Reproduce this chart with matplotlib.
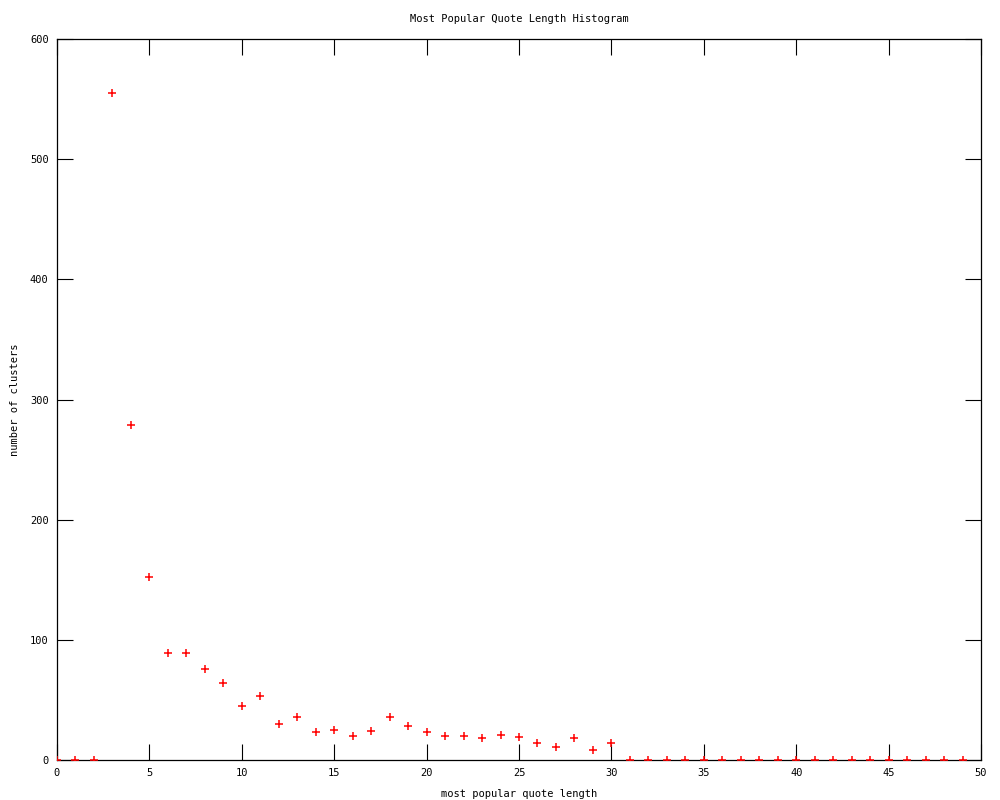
import matplotlib
matplotlib.use('Agg')
import matplotlib.pyplot as plt

# quote length -> number of clusters
lengths = list(range(0, 50))
clusters = [0, 0, 0, 555, 279, 152, 89, 89, 76, 64,
            45, 53, 30, 36, 23, 25, 20, 24, 36, 28,
            23, 20, 20, 18, 21, 19, 14, 11, 18, 8,
            14, 0, 0, 0, 0, 0, 0, 0, 0, 0,
            0, 0, 0, 0, 0, 0, 0, 0, 0, 0]

x_ticks = [0, 5, 10, 15, 20, 25, 30, 35, 40, 45, 50]
y_ticks = [0, 100, 200, 300, 400, 500, 600]

plt.rcParams['font.family'] = ['DejaVu Sans Mono']
plt.rcParams['font.size'] = 7.5

fig = plt.figure(figsize=(10, 8), dpi=100)
ax = fig.add_axes([0.057, 0.05, 0.924, 0.901])

ax.plot(lengths, clusters, linestyle='none', marker='+', color='red',
        markersize=6.3, markeredgewidth=1.1, zorder=3)

ax.set_xlim(0, 50)
ax.set_ylim(0, 600)
ax.set_xticks(x_ticks)
ax.set_yticks(y_ticks)
ax.tick_params(direction='in', length=11.5, width=0.8, top=True, right=True,
               labelsize=7.5, pad=6)
for sp in ax.spines.values():
    sp.set_linewidth(0.9)

ax.set_title('Most Popular Quote Length Histogram', fontsize=7.5, pad=12.5)
ax.set_xlabel('most popular quote length', fontsize=7.5, labelpad=8)
ax.set_ylabel('number of clusters', fontsize=7.5, labelpad=7)

fig.savefig('out.png', dpi=100)
